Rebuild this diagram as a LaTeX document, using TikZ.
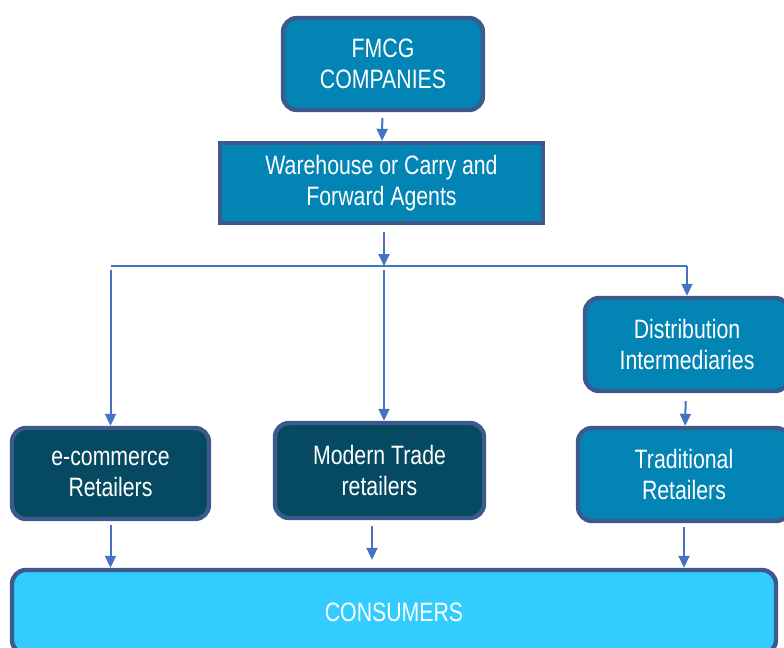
\documentclass[tikz,border=0pt]{standalone}
\usepackage{fontspec}
\setmainfont{Liberation Sans}[FakeStretch=0.8]
\usetikzlibrary{arrows.meta}

\definecolor{edgeblue}{HTML}{4472C4}
\definecolor{boxrim}{HTML}{3C5A8C}
\definecolor{midfill}{HTML}{0284B4}
\definecolor{darkfill}{HTML}{064A62}
\definecolor{lightfill}{HTML}{33CCFF}

\begin{document}
\begin{tikzpicture}[x=0.5pt, y=-0.5pt, >={Triangle[length=6pt,width=5.5pt]},
    box/.style={draw=boxrim, line width=2.2pt, rounded corners=7pt, text=white,
        align=center, font=\fontsize{13.3}{15.5}\selectfont, inner sep=0pt},
    link/.style={draw=edgeblue, line width=1pt}]
    \useasboundingbox (0,0) rectangle (784,648);

    % Top of the chain
    \node [box, fill=midfill, minimum width=100pt, minimum height=46pt] (fmcg) at (383,64) {FMCG\\COMPANIES};
    \node [box, fill=midfill, rounded corners=0pt, minimum width=161.5pt, minimum height=40pt] (agents) at (381.5,183) {Warehouse or Carry and\\Forward Agents};

    % Second row on the right
    \node [box, fill=midfill, minimum width=102pt, minimum height=46.5pt] (dist) at (687,344.5) {Distribution\\Intermediaries};

    % Retailers
    \node [box, fill=darkfill, minimum width=98.5pt, minimum height=45.5pt] (ecom) at (110.5,473.5) {e-commerce\\Retailers};
    \node [box, fill=darkfill, minimum width=104.5pt, minimum height=47.5pt] (modern) at (379.5,470.5) {Modern Trade\\retailers};
    \node [box, fill=midfill, minimum width=106pt, minimum height=46.5pt] (trad) at (684,474.5) {Traditional\\Retailers};

    % End customers
    \node [box, fill=lightfill, minimum width=382pt, minimum height=42pt] (cons) at (394,612) {CONSUMERS};

    % Agents feed the bus line
    \coordinate (bus) at (384,266);
    \draw [link, ->, shorten <=3pt] (fmcg) -- (agents);
    \draw [link, ->, shorten <=3.5pt] (agents.south -| bus) -- (bus);
    \draw [link] (bus -| ecom) -- (bus -| dist);

    % Bus line down to the three channels
    \draw [link, ->, shorten <=2pt] (bus -| ecom) -- (ecom);
    \draw [link, ->, shorten <=2pt] (bus) -- (bus |- modern.north);
    \draw [link, ->] (bus -| dist) -- (dist);
    \draw [link, ->, shorten <=4pt] (dist) -- (trad);

    % Retailers reach the consumers
    \draw [link, ->, shorten <=2pt] (ecom) -- (ecom |- cons.north);
    \draw [link, ->, shorten <=3pt, shorten >=4pt] (modern.south -| 372,0) -- (cons.north -| 372,0);
    \draw [link, ->, shorten <=2pt] (trad) -- (trad |- cons.north);
\end{tikzpicture}
\end{document}
